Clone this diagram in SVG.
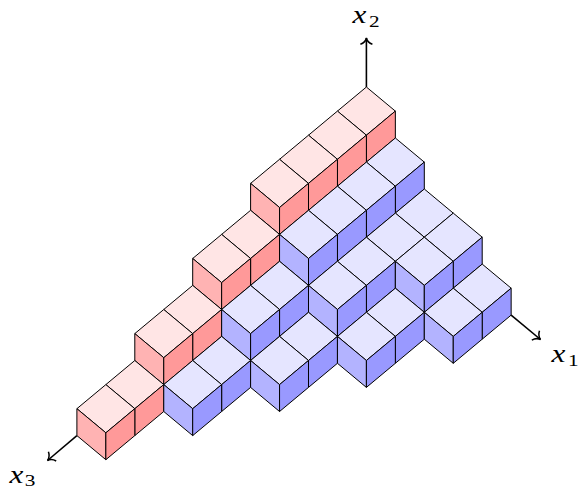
<svg xmlns="http://www.w3.org/2000/svg" width="579" height="490" viewBox="0 0 579 490">
<style>
.f{stroke:#000;stroke-width:1;stroke-linejoin:round}
.t{fill:var(--t)}.l{fill:var(--l)}.r{fill:var(--r)}
.p{--t:#ffe5e5;--l:#ffb3b3;--r:#ff9999}
.b{--t:#e5e5ff;--l:#b3b3ff;--r:#9999ff}
.a{fill:none;stroke:#000;stroke-width:1.6}
.m{font-family:"Liberation Serif",serif;font-size:25px;fill:#000;font-style:italic}
.s{font-size:17px;font-style:normal}
</style>
<defs>
<path id="t" class="f t" d="M0,0l28.95,24.1l-28.95,24.1l-28.95,-24.1z"/>
<path id="l" class="f l" d="M-28.95,24.1l28.95,24.1v26.9l-28.95,-24.1z"/>
<path id="r" class="f r" d="M28.95,24.1l-28.95,24.1v26.9l28.95,-24.1z"/>
<marker id="h" markerUnits="userSpaceOnUse" markerWidth="16" markerHeight="16" refX="12" refY="8" orient="auto" overflow="visible"><path d="M5.7,2C7,5.5 10,7.5 12,8C10,8.5 7,10.5 5.7,14" fill="none" stroke="#000" stroke-width="1.5"/></marker>
</defs>
<g id="connectors">
<path class="a" marker-end="url(#h)" d="M366.4,87V38"/>
<path class="a" marker-end="url(#h)" d="M511.15,315.1L540.5,339.5"/>
<path class="a" marker-end="url(#h)" d="M76.9,435.6L47.5,460.5"/>
</g>
<g id="cubes">
<g id="c00" class="p" transform="translate(366.4,87)"><use href="#t"/><use href="#r"/></g>
<g id="c01" class="p" transform="translate(337.45,111.1)"><use href="#t"/><use href="#r"/></g>
<g id="c02" class="p" transform="translate(308.5,135.2)"><use href="#t"/><use href="#r"/></g>
<g id="c03" class="p" transform="translate(279.55,159.3)"><use href="#t"/><use href="#l"/><use href="#r"/></g>
<g id="c04" class="p" transform="translate(250.6,210.3)"><use href="#t"/><use href="#r"/></g>
<g id="c05" class="p" transform="translate(221.65,234.4)"><use href="#t"/><use href="#l"/><use href="#r"/></g>
<g id="c06" class="p" transform="translate(192.7,285.4)"><use href="#t"/><use href="#r"/></g>
<g id="c07" class="p" transform="translate(163.75,309.5)"><use href="#t"/><use href="#l"/><use href="#r"/></g>
<g id="c08" class="p" transform="translate(134.8,360.5)"><use href="#t"/><use href="#r"/></g>
<g id="c09" class="p" transform="translate(105.85,384.6)"><use href="#t"/><use href="#l"/><use href="#r"/></g>
<g id="c10" class="b" transform="translate(395.35,138)"><use href="#t"/><use href="#r"/></g>
<g id="c11" class="b" transform="translate(366.4,162.1)"><use href="#t"/><use href="#r"/></g>
<g id="c12" class="b" transform="translate(337.45,186.2)"><use href="#t"/><use href="#r"/></g>
<g id="c13" class="b" transform="translate(308.5,210.3)"><use href="#t"/><use href="#l"/><use href="#r"/></g>
<g id="c14" class="b" transform="translate(279.55,261.3)"><use href="#t"/><use href="#r"/></g>
<g id="c15" class="b" transform="translate(250.6,285.4)"><use href="#t"/><use href="#l"/><use href="#r"/></g>
<g id="c16" class="b" transform="translate(221.65,336.4)"><use href="#t"/><use href="#r"/></g>
<g id="c17" class="b" transform="translate(192.7,360.5)"><use href="#t"/><use href="#l"/><use href="#r"/></g>
<g id="c20" class="b" transform="translate(424.3,189)"><use href="#t"/></g>
<g id="c21" class="b" transform="translate(395.35,213.1)"><use href="#t"/></g>
<g id="c22" class="b" transform="translate(366.4,237.2)"><use href="#t"/><use href="#r"/></g>
<g id="c23" class="b" transform="translate(337.45,261.3)"><use href="#t"/><use href="#l"/><use href="#r"/></g>
<g id="c24" class="b" transform="translate(308.5,312.3)"><use href="#t"/><use href="#r"/></g>
<g id="c25" class="b" transform="translate(279.55,336.4)"><use href="#t"/><use href="#l"/><use href="#r"/></g>
<g id="c30" class="b" transform="translate(453.25,213.1)"><use href="#t"/><use href="#r"/></g>
<g id="c31" class="b" transform="translate(424.3,237.2)"><use href="#t"/><use href="#l"/><use href="#r"/></g>
<g id="c32" class="b" transform="translate(395.35,288.2)"><use href="#t"/><use href="#r"/></g>
<g id="c33" class="b" transform="translate(366.4,312.3)"><use href="#t"/><use href="#l"/><use href="#r"/></g>
<g id="c40" class="b" transform="translate(482.2,264.1)"><use href="#t"/><use href="#r"/></g>
<g id="c41" class="b" transform="translate(453.25,288.2)"><use href="#t"/><use href="#l"/><use href="#r"/></g>
</g>
<g id="labels">
<text class="m" transform="translate(352.5,22.5) scale(1.25,1)">x<tspan class="s" x="13.2" y="4.5">2</tspan></text>
<text class="m" transform="translate(551.5,361.7) scale(1.25,1)">x<tspan class="s" x="13.2" y="4.5">1</tspan></text>
<text class="m" transform="translate(9.5,483) scale(1.25,1)">x<tspan class="s" x="12.3" y="3">3</tspan></text>
</g>
</svg>
